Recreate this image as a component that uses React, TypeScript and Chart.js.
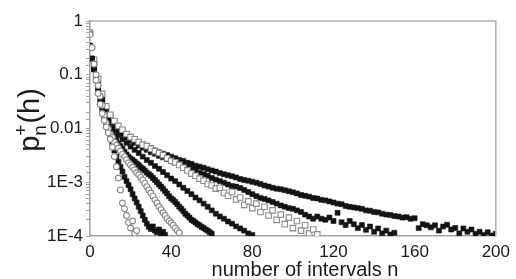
import { useEffect, useRef } from 'react';
import { Chart, registerables } from 'chart.js';

Chart.register(...registerables);

// shared x positions (number of intervals n)
const N_STEP2 = [0, 2, 4, 6, 8, 10, 12, 14, 16, 18, 20, 22, 24, 26, 28, 30, 32, 34, 36, 38, 40, 42, 44, 46, 48, 50, 52, 54, 56, 58, 60, 62, 64, 66, 68, 70, 72, 74, 76, 78, 80, 82, 84, 86, 88, 90, 92, 94, 96, 98, 100, 102, 104, 106, 108, 110, 112, 114, 116, 118, 120, 122, 124, 126, 128, 130, 132, 134, 136, 138, 140, 142, 144, 146, 148, 150, 152, 154, 156, 158, 160, 162, 164, 166, 168, 170, 172, 174, 176, 178, 180, 182, 184, 186, 188, 190, 192, 194, 196, 198, 200];
const N_STEP1 = [0, 1, 2, 3, 4, 5, 6, 7, 8, 9, 10, 11, 12, 13, 14, 15, 16, 17, 18, 19, 20, 21, 22, 23, 24, 25, 26, 27, 28, 29, 30, 31, 32, 33, 34, 35, 36, 37, 38, 39, 40, 41, 42, 43, 44, 45, 46, 47, 48, 49, 50, 51, 52, 53, 54, 55, 56, 57, 58, 59, 60];

// series values p_n^+(h)
const seriesH = [0.35, 0.16, 0.071, 0.04, 0.024, 0.0166, 0.0132, 0.0105, 0.0091, 0.0079, 0.0068, 0.0063, 0.0056, 0.005, 0.0046, 0.0043, 0.0039, 0.0036, 0.0034, 0.0032, 0.003, 0.0028, 0.0026, 0.0025, 0.0023, 0.0022, 0.00204, 0.00195, 0.00186, 0.00174, 0.00166, 0.00158, 0.00148, 0.00141, 0.00135, 0.00129, 0.00123, 0.00115, 0.0011, 0.00107, 0.00102, 0.00098, 0.00093, 0.00087, 0.00083, 0.00079, 0.00076, 0.00074, 0.00071, 0.00068, 0.00065, 0.00062, 0.00058, 0.00056, 0.00054, 0.00051, 0.0005, 0.00047, 0.00046, 0.00044, 0.00042, 0.0004, 0.00039, 0.00036, 0.00035, 0.00034, 0.00033, 0.00032, 0.0003, 0.000295, 0.00028, 0.000275, 0.00026, 0.00025, 0.000245, 0.000235, 0.00023, 0.00022, 0.000224, 0.00021, 0.000214, 0.00014, 0.000166, 0.000158, 0.000145, 0.000158, 0.000126, 0.00015, 0.000162, 0.000132, 0.000141, 0.000112, 0.000138, 0.00012, 0.000132, 0.00011, 0.00012, 0.000105, 0.000117, 0.000102, 0.00011];
const seriesG = [0.32, 0.14, 0.063, 0.035, 0.021, 0.014, 0.0112, 0.0091, 0.0079, 0.0068, 0.0059, 0.0054, 0.0048, 0.0044, 0.004, 0.0036, 0.0034, 0.0031, 0.0029, 0.0027, 0.0025, 0.00234, 0.00219, 0.00204, 0.0019, 0.00178, 0.00166, 0.00151, 0.00141, 0.00132, 0.0012, 0.00112, 0.00105, 0.00098, 0.00091, 0.00085, 0.00083, 0.00078, 0.00072, 0.00066, 0.0006, 0.00055, 0.00051, 0.00049, 0.00046, 0.00043, 0.0004, 0.00037, 0.00035, 0.00033, 0.00032, 0.0003, 0.00028, 0.00025, 0.00023, 0.00021, 0.00023, 0.00021, 0.0002, 0.00022, 0.00019, 0.00027, 0.00018, 0.00016, 0.00019, 0.000166, 0.00014, 0.00016, 0.00013, 0.00015, 0.00012, 0.000138, 0.000112, 0.000126, 0.000107, 0.000115];
const seriesF = [0.6, 0.19, 0.083, 0.044, 0.026, 0.018, 0.0138, 0.0112, 0.0095, 0.0079, 0.0069, 0.0063, 0.0056, 0.005, 0.0047, 0.0042, 0.0038, 0.0035, 0.0032, 0.0028, 0.0025, 0.00234, 0.0021, 0.00186, 0.00166, 0.00145, 0.00132, 0.00117, 0.00107, 0.00093, 0.00087, 0.00076, 0.00079, 0.00063, 0.00056, 0.00066, 0.00048, 0.00052, 0.00038, 0.00044, 0.00033, 0.0004, 0.00028, 0.00035, 0.00024, 0.0003, 0.0002, 0.00025, 0.000166, 0.00022, 0.00014, 0.00019, 0.000126, 0.000158, 0.000112, 0.000132, 0.000107];
const seriesE = [0.33, 0.14, 0.063, 0.032, 0.0178, 0.012, 0.0093, 0.0076, 0.0063, 0.0054, 0.0046, 0.004, 0.0035, 0.003, 0.0026, 0.0023, 0.002, 0.00178, 0.00155, 0.00135, 0.00117, 0.00105, 0.00091, 0.00079, 0.00069, 0.0006, 0.00052, 0.00046, 0.0004, 0.00035, 0.0003, 0.00026, 0.00023, 0.00021, 0.000186, 0.00017, 0.000151, 0.000138, 0.000126, 0.000112, 0.000105];
const seriesD = [0.32, 0.2, 0.126, 0.083, 0.056, 0.04, 0.028, 0.02, 0.0141, 0.0117, 0.01, 0.0083, 0.0071, 0.006, 0.0052, 0.0047, 0.0042, 0.0037, 0.0033, 0.003, 0.00275, 0.0026, 0.0024, 0.00224, 0.0021, 0.0019, 0.00178, 0.00166, 0.00151, 0.00141, 0.00132, 0.0012, 0.0011, 0.001, 0.00091, 0.00083, 0.00076, 0.00068, 0.00062, 0.00055, 0.0005, 0.00047, 0.00043, 0.00039, 0.00035, 0.00032, 0.00029, 0.00026, 0.00024, 0.00022, 0.0002, 0.00019, 0.000178, 0.000166, 0.000158, 0.000148, 0.000141, 0.000132, 0.000126, 0.000117, 0.00011];
const seriesC = [0.6, 0.32, 0.158, 0.1, 0.063, 0.04, 0.027, 0.0178, 0.0126, 0.01, 0.0079, 0.0068, 0.0056, 0.0049, 0.0043, 0.0038, 0.0033, 0.003, 0.0026, 0.0023, 0.0021, 0.0019, 0.0017, 0.0015, 0.00138, 0.00123, 0.0011, 0.00095, 0.00083, 0.00072, 0.00063, 0.00055, 0.00047, 0.00041, 0.00035, 0.00031, 0.00027, 0.00024, 0.00021, 0.00019, 0.000174, 0.000158, 0.000141, 0.000126, 0.000115];
const seriesB = [0.32, 0.2, 0.126, 0.079, 0.05, 0.033, 0.022, 0.0158, 0.0112, 0.0089, 0.0071, 0.0052, 0.0039, 0.003, 0.0024, 0.00195, 0.00158, 0.00126, 0.00105, 0.00089, 0.00074, 0.0006, 0.0005, 0.00042, 0.00035, 0.00029, 0.00024, 0.0002, 0.00017, 0.000148, 0.000135, 0.000151, 0.000126, 0.000117, 0.000132, 0.00011, 0.00012, 0.000105];
const seriesA = [0.56, 0.32, 0.158, 0.079, 0.045, 0.028, 0.019, 0.0141, 0.0107, 0.0083, 0.0063, 0.0045, 0.003, 0.00195, 0.0012, 0.00072, 0.00041, 0.00032, 0.00024, 0.000178, 0.000141, 0.00019, 0.000112, 0.000126];

const X_TICKS = [0, 40, 80, 120, 160, 200];
const Y_TICK_LABELS: Record<string, string> = { '1': '1', '0.1': '0.1', '0.01': '0.01', '0.001': '1E-3', '0.0001': '1E-4' };

const FONT = '"Liberation Sans", Arial, sans-serif';

const toPoints = (xs: number[], ys: number[]) => ys.map((y, i) => ({ x: xs[i], y }));

const filled = { pointStyle: 'rect', pointRadius: 3.5, backgroundColor: '#141414', borderColor: '#141414', pointBorderWidth: 0.6 };
const openCircle = { pointStyle: 'circle', pointRadius: 2.9, backgroundColor: '#ffffff', borderColor: '#8a8a8a', pointBorderWidth: 1.1 };
const openSquare = { pointStyle: 'rect', pointRadius: 3.9, backgroundColor: '#ffffff', borderColor: '#8a8a8a', pointBorderWidth: 1.1 };

const titlesPlugin = {
  id: 'customTitles',
  afterDraw(chart: any) {
    const { ctx, chartArea } = chart;
    ctx.save();
    // frame (top & right)
    ctx.strokeStyle = '#b0b0b0';
    ctx.lineWidth = 1.5;
    ctx.beginPath();
    ctx.moveTo(chartArea.left, chartArea.top);
    ctx.lineTo(chartArea.right, chartArea.top);
    ctx.lineTo(chartArea.right, chartArea.bottom);
    ctx.stroke();

    ctx.fillStyle = '#1a1a1a';
    // x title
    ctx.font = `20px ${FONT}`;
    ctx.textAlign = 'center';
    ctx.textBaseline = 'alphabetic';
    ctx.fillText('number of intervals n', 305, 276);

    // y title: p_n^+(h), rotated
    ctx.translate(39, 120);
    ctx.rotate(-Math.PI / 2);
    ctx.textAlign = 'left';
    const big = `29px ${FONT}`;
    const small = `19px ${FONT}`;
    ctx.font = big;
    const wp = ctx.measureText('p').width;
    const wh = ctx.measureText('(h)').width;
    ctx.font = small;
    const ws = Math.max(ctx.measureText('n').width, ctx.measureText('+').width);
    const total = wp + ws + wh + 1;
    let x = -total / 2;
    ctx.font = big;
    ctx.fillText('p', x, 0);
    x += wp;
    ctx.font = small;
    ctx.fillText('n', x, 7);
    ctx.fillText('+', x, -12);
    x += ws + 1;
    ctx.font = big;
    ctx.fillText('(h)', x, 0);
    ctx.restore();
  },
};

export default function App() {
  const ref = useRef<HTMLCanvasElement | null>(null);

  useEffect(() => {
    if (!ref.current) return;
    const chart = new Chart(ref.current, {
      type: 'scatter',
      data: {
        datasets: [
          { label: 'A', data: toPoints(N_STEP1, seriesA), ...openCircle },
          { label: 'C', data: toPoints(N_STEP1, seriesC), ...openCircle },
          { label: 'B', data: toPoints(N_STEP1, seriesB), ...filled },
          { label: 'D', data: toPoints(N_STEP1, seriesD), ...filled },
          { label: 'F', data: toPoints(N_STEP2, seriesF), ...openSquare },
          { label: 'E', data: toPoints(N_STEP2, seriesE), ...filled },
          { label: 'G', data: toPoints(N_STEP2, seriesG), ...filled },
          { label: 'H', data: toPoints(N_STEP2, seriesH), ...filled },
        ] as any,
      },
      options: {
        animation: false,
        responsive: true,
        maintainAspectRatio: false,
        layout: { padding: { left: 0, top: 21, right: 16, bottom: 0 } },
        plugins: { legend: { display: false }, tooltip: { enabled: false } },
        scales: {
          x: {
            type: 'linear',
            min: 0,
            max: 200,
            afterBuildTicks: (scale: any) => {
              scale.ticks = X_TICKS.map((v) => ({ value: v }));
            },
            afterFit: (scale: any) => {
              scale.height = 43;
            },
            ticks: { font: { size: 17, family: FONT }, color: '#1a1a1a', padding: 6, maxRotation: 0 },
            grid: { display: true, drawOnChartArea: false, drawTicks: false },
            border: { color: '#a0a0a0', width: 1.5 },
          },
          y: {
            type: 'logarithmic',
            min: 0.0001,
            max: 1,
            afterFit: (scale: any) => {
              scale.width = 90;
            },
            ticks: {
              autoSkip: false,
              font: { size: 17, family: FONT },
              color: '#1a1a1a',
              padding: 3,
              callback: (v: any) => {
                const key = String(Number(v));
                return Y_TICK_LABELS[key] ?? '';
              },
            },
            grid: { display: true, drawOnChartArea: false, drawTicks: true, tickLength: 4, color: '#a0a0a0' },
            border: { color: '#a0a0a0', width: 1.5 },
          },
        },
      },
      plugins: [titlesPlugin],
    });
    return () => chart.destroy();
  }, []);

  return (
    <div style={{ position: 'absolute', left: 0, top: 0, width: 516, height: 279, background: '#fff' }}>
      <canvas ref={ref} />
    </div>
  );
}
